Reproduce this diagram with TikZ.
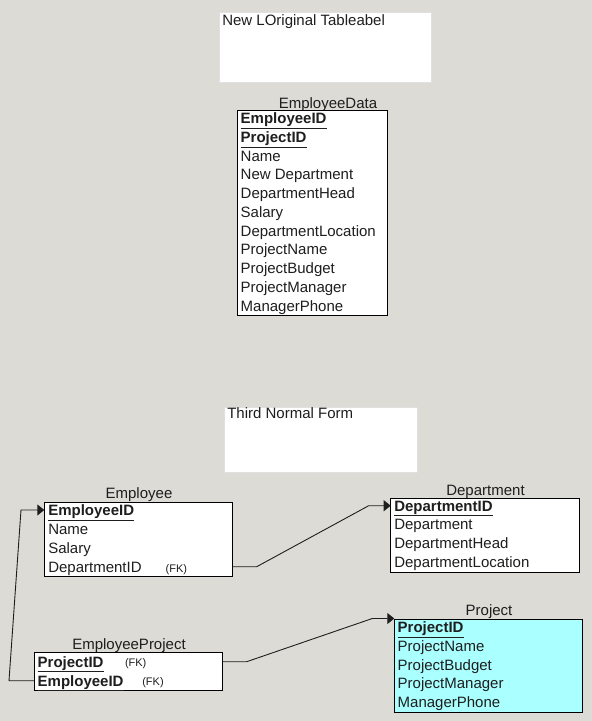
\documentclass[tikz,border=0pt]{standalone}
\usepackage{fontspec}
\setmainfont{Liberation Sans}
\usetikzlibrary{arrows.meta}
\definecolor{bgc}{RGB}{220,219,214}
\definecolor{txt}{RGB}{30,30,30}
\definecolor{cyanfill}{RGB}{170,255,255}
\newcommand{\pk}[1]{\textbf{\underline{#1}}}
\begin{document}
\begin{tikzpicture}[x=1pt,y=-1pt,
  tbl/.style={draw=black, line width=0.9pt, fill=white, anchor=north west, inner sep=0pt, outer sep=0pt},
  row/.style={anchor=west, inner sep=0pt, outer sep=0pt, text height=10.7pt, text depth=0pt, font=\fontsize{15}{17}\selectfont, text=txt},
  ttl/.style={anchor=center, inner sep=0pt, text height=10.7pt, text depth=0pt, font=\fontsize{15}{17}\selectfont, text=txt},
  fk/.style={row, font=\fontsize{11}{12}\selectfont, text height=8pt},
  lbl/.style={fill=white, draw=white!88!black, line width=0.5pt, anchor=north west, inner sep=0pt},
  conn/.style={draw=txt, line width=0.9pt},
  arr/.style={-{Triangle[length=7pt,width=11pt]}}
]
\fill[bgc] (0,0) rectangle (592,721);
\useasboundingbox (0,0) rectangle (592,721);

% label boxes
\node[lbl, minimum width=211.7pt, minimum height=70pt] (top) at (219,12.3) {};
\node[row] (topt) at (222.3,20) {New LOriginal Tableabel};
\node[lbl, minimum width=193.3pt, minimum height=65pt] (tnf) at (224,407.3) {};
\node[row] (tnft) at (227.3,413.3) {Third Normal Form};

% EmployeeData
\node[ttl] (edt) at (328,102.7) {EmployeeData};
\node[tbl, minimum width=150pt, minimum height=205pt] (ed) at (237,110.5) {};
\node[row] (ed1) at (240.7,118.3) {\pk{EmployeeID}};
\node[row] (ed2) at (240.7,136.9) {\pk{ProjectID}};
\node[row] (ed3) at (240.7,155.7) {Name};
\node[row] (ed4) at (240.7,174.4) {New Department};
\node[row] (ed5) at (240.7,193.2) {DepartmentHead};
\node[row] (ed6) at (240.7,212.0) {Salary};
\node[row] (ed7) at (240.7,230.8) {DepartmentLocation};
\node[row] (ed8) at (240.7,249.6) {ProjectName};
\node[row] (ed9) at (240.7,268.4) {ProjectBudget};
\node[row] (ed10) at (240.7,287.1) {ProjectManager};
\node[row] (ed11) at (240.7,305.8) {ManagerPhone};

% Employee
\node[ttl] (empt) at (139,493.3) {Employee};
\node[tbl, minimum width=188pt, minimum height=74.7pt] (emp) at (44.3,502) {};
\node[row] (e1) at (48.3,510) {\pk{EmployeeID}};
\node[row] (e2) at (48.3,529) {Name};
\node[row] (e3) at (48.3,548.3) {Salary};
\node[row] (e4) at (48.3,566.7) {DepartmentID};
\node[fk] (e4fk) at (165.7,568.2) {(FK)};

% Department
\node[ttl] (deptt) at (485.5,490) {Department};
\node[tbl, minimum width=188.3pt, minimum height=74.4pt] (dept) at (390.7,498.3) {};
\node[row] (d1) at (394.3,505.7) {\pk{DepartmentID}};
\node[row] (d2) at (394.3,524) {Department};
\node[row] (d3) at (394.3,542.7) {DepartmentHead};
\node[row] (d4) at (394.3,561.7) {DepartmentLocation};

% EmployeeProject
\node[ttl] (ept) at (129,644) {EmployeeProject};
\node[tbl, minimum width=187.7pt, minimum height=38pt] (ep) at (34.3,652.7) {};
\node[row] (p1) at (37.7,661.7) {\pk{ProjectID}};
\node[fk] (p1fk) at (125,662.7) {(FK)};
\node[row] (p2) at (37.7,680.7) {\pk{EmployeeID}};
\node[fk] (p2fk) at (142.3,681.5) {(FK)};

% Project
\node[ttl] (projt) at (489,610) {Project};
\node[tbl, fill=cyanfill, minimum width=187.7pt, minimum height=93.3pt] (proj) at (394.3,619) {};
\node[row] (q1) at (397.7,627.3) {\pk{ProjectID}};
\node[row] (q2) at (397.7,646) {ProjectName};
\node[row] (q3) at (397.7,665) {ProjectBudget};
\node[row] (q4) at (397.7,683.3) {ProjectManager};
\node[row] (q5) at (397.7,702.3) {ManagerPhone};

% connectors
\draw[conn,arr] (emp.east |- e4.west) -- ++(24.4pt,0pt) -- ([xshift=-22pt]dept.west |- d1.west) -- (dept.west |- d1.west);
\draw[conn,arr] (ep.east |- p1.west) -- ++(24.7pt,0pt) -- ([xshift=-22pt,yshift=0.5pt]proj.north west) -- ([yshift=0.5pt]proj.north west);
\draw[conn,arr] (ep.west |- p2.west) -- ++(-25.3pt,0pt) -- ([xshift=-23.3pt]emp.west |- e1.west) -- (emp.west |- e1.west);
\end{tikzpicture}
\end{document}
